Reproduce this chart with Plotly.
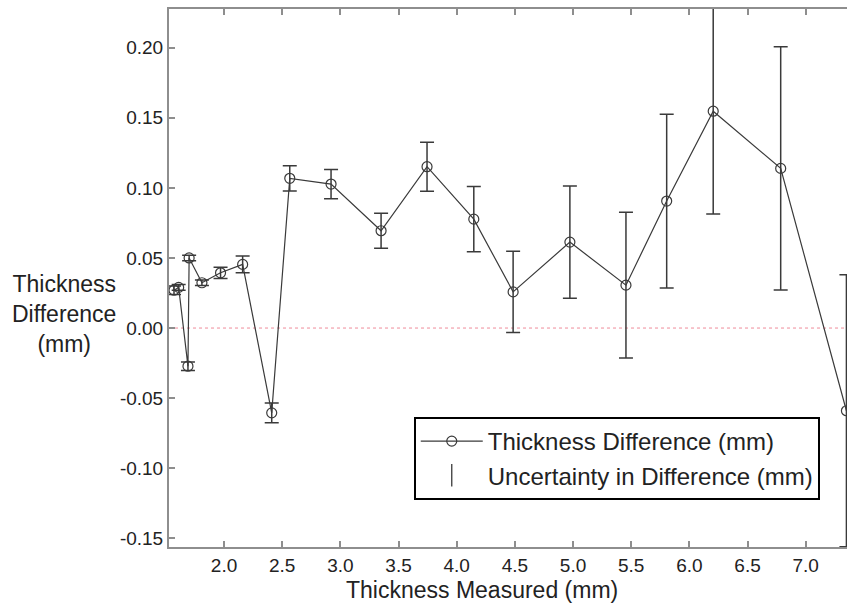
import plotly.graph_objects as go

# ---- data ----
thickness_measured = [1.57, 1.61, 1.69, 1.70, 1.81, 1.97, 2.16, 2.41, 2.565, 2.92,
                      3.35, 3.745, 4.147, 4.485, 4.973, 5.455, 5.805, 6.205, 6.785, 7.35]
thickness_difference = [0.027, 0.029, -0.0272, 0.050, 0.0323, 0.0394, 0.0454, -0.0605, 0.1068, 0.1027,
                        0.0694, 0.1151, 0.0777, 0.0258, 0.0613, 0.0306, 0.0906, 0.1547, 0.1139, -0.059]
uncertainty = [0.003, 0.002, 0.003, 0.002, 0.002, 0.004, 0.006, 0.007, 0.009, 0.0104,
               0.0125, 0.0175, 0.0233, 0.029, 0.040, 0.052, 0.062, 0.0734, 0.0868, 0.097]

x_tick_vals = [2.0, 2.5, 3.0, 3.5, 4.0, 4.5, 5.0, 5.5, 6.0, 6.5, 7.0]
x_tick_text = ["2.0", "2.5", "3.0", "3.5", "4.0", "4.5", "5.0", "5.5", "6.0", "6.5", "7.0"]
y_tick_vals = [-0.15, -0.10, -0.05, 0.00, 0.05, 0.10, 0.15, 0.20]
y_tick_text = ["-0.15", "-0.10", "-0.05", "0.00", "0.05", "0.10", "0.15", "0.20"]

FONT = "Liberation Sans, Arial, Helvetica, sans-serif"
INK = "#3a3a3a"
FRAME = "#8e8e8e"

fig = go.Figure()

fig.add_trace(go.Scatter(
    x=thickness_measured, y=thickness_difference,
    mode="lines+markers",
    name="Thickness Difference (mm)",
    line=dict(color=INK, width=1.2),
    marker=dict(symbol="circle-open", size=10, color=INK, line=dict(width=1.2, color=INK)),
    error_y=dict(type="data", array=uncertainty, symmetric=True,
                 color=INK, thickness=1.5, width=7),
))

# legend-only entry for the uncertainty symbol
fig.add_trace(go.Scatter(
    x=[None], y=[None], mode="markers",
    name="Uncertainty in Difference (mm)",
    marker=dict(symbol="line-ns-open", size=16, color=INK, line=dict(width=1.3, color=INK)),
))

fig.add_shape(type="line", xref="paper", x0=0, x1=1, yref="y", y0=0, y1=0,
              line=dict(color="rgba(235,110,130,0.8)", width=1, dash="dot"), layer="below")

fig.update_layout(
    width=847, height=605, autosize=False,
    margin=dict(l=169, r=0, t=9, b=58, autoexpand=False),
    paper_bgcolor="white", plot_bgcolor="white",
    font=dict(family=FONT, color="#222222"),
    showlegend=True,
    legend=dict(x=0.361, y=0.2416, xanchor="left", yanchor="top",
                bgcolor="white", bordercolor="black", borderwidth=2,
                font=dict(size=24, family=FONT, color="#222222"),
                itemwidth=62, tracegroupgap=0),
    xaxis=dict(range=[1.527, 7.355], tickvals=x_tick_vals, ticktext=x_tick_text,
               ticks="inside", ticklen=6, tickwidth=1.5, tickcolor=FRAME,
               showline=True, linecolor=FRAME, linewidth=2, mirror="ticks",
               showgrid=False, zeroline=False, automargin=False,
               tickfont=dict(size=19, family=FONT, color="#222222")),
    yaxis=dict(range=[-0.1562, 0.2276], tickvals=y_tick_vals, ticktext=y_tick_text,
               ticks="inside", ticklen=6, tickwidth=1.5, tickcolor=FRAME,
               showline=True, linecolor=FRAME, linewidth=2, mirror=False,
               showgrid=False, zeroline=False, automargin=False,
               tickfont=dict(size=19, family=FONT, color="#222222")),
    annotations=[
        dict(text="Thickness<br>Difference<br>(mm)", xref="paper", yref="paper",
             x=-0.155, y=0.433, xanchor="center", yanchor="middle", showarrow=False,
             font=dict(size=23, family=FONT, color="#222222"), align="center"),
        dict(text="Thickness Measured (mm)", xref="paper", yref="paper",
             x=0.462, y=-0.08, xanchor="center", yanchor="middle", showarrow=False,
             font=dict(size=23, family=FONT, color="#222222")),
    ],
)

fig.write_html("out.html", config={"displayModeBar": False},
               post_script="document.body.style.margin='0px';document.body.style.overflow='hidden';")
